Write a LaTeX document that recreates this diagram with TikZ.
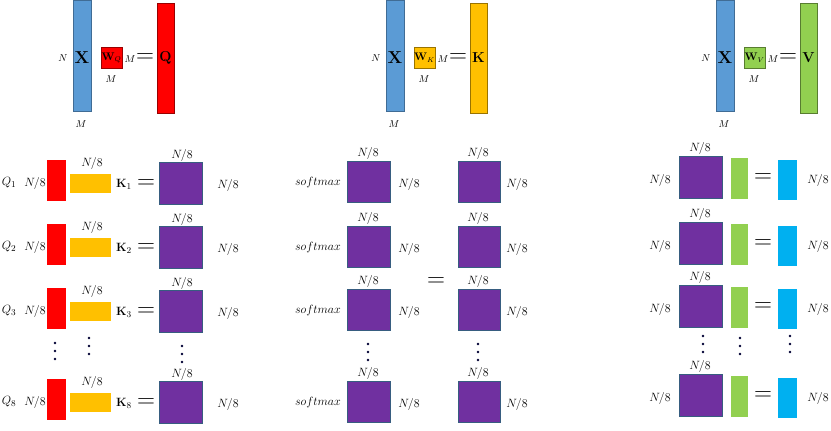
\documentclass[tikz,border=0pt]{standalone}
\begin{document}
\begin{tikzpicture}[x=1pt,y=-1pt,
 lb/.style={inner sep=0pt,font=\fontsize{13}{15}\selectfont},
 eq/.style={inner sep=0pt,font=\fontsize{26}{28}\selectfont}]
\definecolor{cx}{HTML}{5B9BD5}\definecolor{cr}{HTML}{FF0000}
\definecolor{cy}{HTML}{FFC000}\definecolor{cp}{HTML}{7030A0}
\definecolor{cg}{HTML}{92D050}\definecolor{cc}{HTML}{00B0F0}
\useasboundingbox (0,0) rectangle (831,431);
% top row
\foreach \x/\col/\sub/\res/\name in {73/cr/Q/Q/q,386/cy/K/K/k,716/cg/V/V/v}{
 \begin{scope}[shift={(\x,0)}]
 \fill[cx,draw=cx!70!black] (0,0) rectangle (18,111);
 \node[lb,font=\fontsize{10}{12}\selectfont] (n\name) at (-10,58) {$N$};
 \node[lb,font=\fontsize{17}{19}\selectfont] (x\name) at (9,58) {$\mathbf{X}$};
 \node[lb,font=\fontsize{10}{12}\selectfont] (mm\name) at (8,124) {$M$};
 \fill[\col,draw=\col!60!black] (28,47) rectangle (49,68);
 \node[lb,font=\fontsize{10.5}{12}\selectfont] (w\name) at (38.5,58) {$\mathbf{W}_{\sub}$};
 \node[lb,font=\fontsize{10}{12}\selectfont] (mw\name) at (38,79) {$M$};
 \node[lb,font=\fontsize{10}{12}\selectfont] (mr\name) at (57,59) {$M$};
 \node[eq] (e\name) at (72,58) {$=$};
 \fill[\col,draw=\col!60!black] (84,3) rectangle (101,113);
 \node[lb,font=\fontsize{15}{17}\selectfont] (r\name) at (92.5,58) {$\mathbf{\res}$};
 \end{scope}}
% left rows
\foreach \y/\i in {181/1,245/2,309/3,400/8}{
 \fill[cr] (47,\y-21) rectangle (66,\y+20);
 \fill[cy] (70,\y-7) rectangle (111,\y+12);
 \fill[cp,draw=cx!60!black] (159,\y-19) rectangle (202,\y+23);
 \node[lb] (q\i) at (9,\y+2) {$Q_{\i}$};
 \node[lb] (qn\i) at (35,\y+2) {$N/8$};
 \node[lb] (yn\i) at (92,\y-18) {$N/8$};
 \node[lb] (k\i) at (124,\y+3) {$\mathbf{K}_{\i}$};
 \node[eq] (ke\i) at (146,\y+3) {$=$};
 \node[lb] (pn\i) at (228,\y+4) {$N/8$};
 \node[lb] (pt\i) at (182,\y-26) {$N/8$};
}
% middle rows
\foreach \y/\i in {180/1,245/2,308/3,400/8}{
 \node[lb,font=\fontsize{12}{14}\selectfont] (sm\i) at (318,\y+2) {$softmax$};
 \fill[cp,draw=cx!60!black] (347,\y-19) rectangle (390,\y+22);
 \node[lb] (ma\i) at (368,\y-27) {$N/8$};
 \node[lb] (mb\i) at (409,\y+4) {$N/8$};
 \fill[cp,draw=cx!60!black] (458,\y-19) rectangle (500,\y+22);
 \node[lb] (mc\i) at (478,\y-27) {$N/8$};
 \node[lb] (md\i) at (517,\y+4) {$N/8$};
}
\node[eq,font=\fontsize{34}{36}\selectfont] (bigeq) at (436,282) {$=$};
% right rows
\foreach \y/\i in {177/1,243/2,306/3,395/8}{
 \node[lb] (ra\i) at (660,\y+3) {$N/8$};
 \fill[cp,draw=cx!60!black] (679,\y-21) rectangle (722,\y+21);
 \node[lb] (rb\i) at (700,\y-29) {$N/8$};
 \fill[cg] (731,\y-19) rectangle (748,\y+22);
 \node[eq] (re\i) at (763,\y+1) {$=$};
 \fill[cc] (778,\y-17) rectangle (797,\y+23);
 \node[lb] (rc\i) at (818,\y+3) {$N/8$};
}
% dots
\foreach \x/\a in {55/343,89/338,182/346,368/344,478/344,703/336,740/338,790/336}{
 \foreach \d in {0,8,16} \fill[black!80!blue] (\x,\a+\d) circle (1.3);
}
\end{tikzpicture}
\end{document}
